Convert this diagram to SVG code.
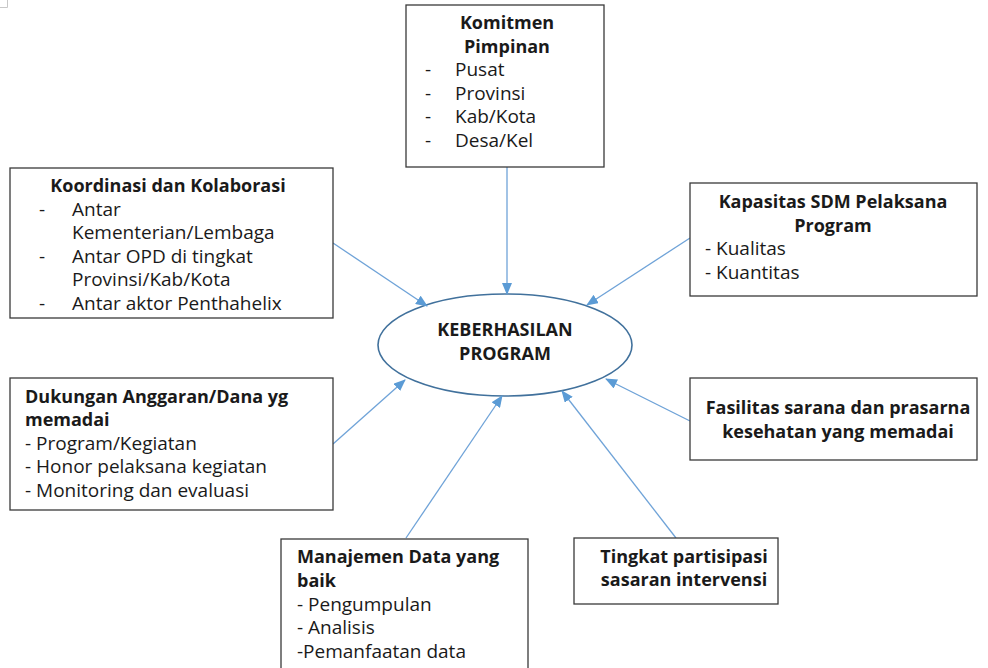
<svg xmlns="http://www.w3.org/2000/svg" width="988" height="668" viewBox="0 0 988 668">
<defs>
<marker id="ah" viewBox="0 0 12 10" refX="11" refY="5" markerWidth="12" markerHeight="10" markerUnits="userSpaceOnUse" orient="auto">
<path d="M0,0 L12,5 L0,10 z" fill="#5b9bd5"/>
</marker>
<style>
.box{fill:#fff;stroke:#3a3a3a;stroke-width:1.3}
.t{font-family:"Open Sans","Liberation Sans",sans-serif;font-size:19px;fill:#1a1a1a}
.b{font-weight:bold;font-size:18px}
.c{text-anchor:middle}
.con{stroke:#6fa3d8;stroke-width:1.3;fill:none;marker-end:url(#ah)}
</style>
</defs>
<rect width="988" height="668" fill="#fff"/>
<path d="M0,7.5 H7.5 V0" stroke="#c8c8c8" fill="none" stroke-width="1"/>
<g id="center">
<ellipse cx="505" cy="345" rx="127" ry="51" fill="#fff" stroke="#41719c" stroke-width="1.6"/>
<text class="t b c" x="505" y="336">KEBERHASILAN</text>
<text class="t b c" x="505" y="360">PROGRAM</text>
</g>
<g id="connectors">
<line class="con" x1="507" y1="167" x2="507" y2="294"/>
<line class="con" x1="333" y1="243" x2="427" y2="306"/>
<line class="con" x1="690" y1="238" x2="587" y2="305"/>
<line class="con" x1="333" y1="444" x2="405" y2="380"/>
<line class="con" x1="690" y1="421" x2="606" y2="379"/>
<line class="con" x1="406" y1="538" x2="502" y2="396"/>
<line class="con" x1="676" y1="538" x2="562" y2="391"/>
</g>
<g id="komitmen">
<rect class="box" x="406" y="5" width="198" height="162"/>
<text class="t b c" x="507" y="29">Komitmen</text>
<text class="t b c" x="507" y="53">Pimpinan</text>
<text class="t" x="425" y="76">-</text><text class="t" x="455" y="76">Pusat</text>
<text class="t" x="425" y="100">-</text><text class="t" x="455" y="100">Provinsi</text>
<text class="t" x="425" y="123">-</text><text class="t" x="455" y="123">Kab/Kota</text>
<text class="t" x="425" y="147">-</text><text class="t" x="455" y="147">Desa/Kel</text>
</g>
<g id="koordinasi">
<rect class="box" x="10" y="168" width="323" height="150"/>
<text class="t b c" x="168" y="192">Koordinasi dan Kolaborasi</text>
<text class="t" x="39" y="216">-</text><text class="t" x="72" y="216">Antar</text>
<text class="t" x="72" y="239">Kementerian/Lembaga</text>
<text class="t" x="39" y="263">-</text><text class="t" x="72" y="263">Antar OPD di tingkat</text>
<text class="t" x="72" y="286">Provinsi/Kab/Kota</text>
<text class="t" x="39" y="310">-</text><text class="t" x="72" y="310">Antar aktor Penthahelix</text>
</g>
<g id="kapasitas">
<rect class="box" x="690" y="183" width="287" height="113"/>
<text class="t b c" x="833" y="208">Kapasitas SDM Pelaksana</text>
<text class="t b c" x="833" y="232">Program</text>
<text class="t" x="705" y="255">- Kualitas</text>
<text class="t" x="705" y="279">- Kuantitas</text>
</g>
<g id="dukungan">
<rect class="box" x="10" y="378" width="323" height="132"/>
<text class="t b" x="25" y="403">Dukungan Anggaran/Dana yg</text>
<text class="t b" x="25" y="426">memadai</text>
<text class="t" x="25" y="450">- Program/Kegiatan</text>
<text class="t" x="25" y="473">- Honor pelaksana kegiatan</text>
<text class="t" x="25" y="497">- Monitoring dan evaluasi</text>
</g>
<g id="fasilitas">
<rect class="box" x="690" y="378" width="287" height="82"/>
<text class="t b c" x="838" y="414">Fasilitas sarana dan prasarna</text>
<text class="t b c" x="838" y="438">kesehatan yang memadai</text>
</g>
<g id="manajemen">
<rect class="box" x="281" y="539" width="247" height="140"/>
<text class="t b" x="297" y="563">Manajemen Data yang</text>
<text class="t b" x="297" y="587">baik</text>
<text class="t" x="297" y="611">- Pengumpulan</text>
<text class="t" x="297" y="634">- Analisis</text>
<text class="t" x="297" y="658">-Pemanfaatan data</text>
</g>
<g id="tingkat">
<rect class="box" x="574" y="538" width="204" height="66"/>
<text class="t b c" x="684" y="563">Tingkat partisipasi</text>
<text class="t b c" x="684" y="586">sasaran intervensi</text>
</g>
</svg>
